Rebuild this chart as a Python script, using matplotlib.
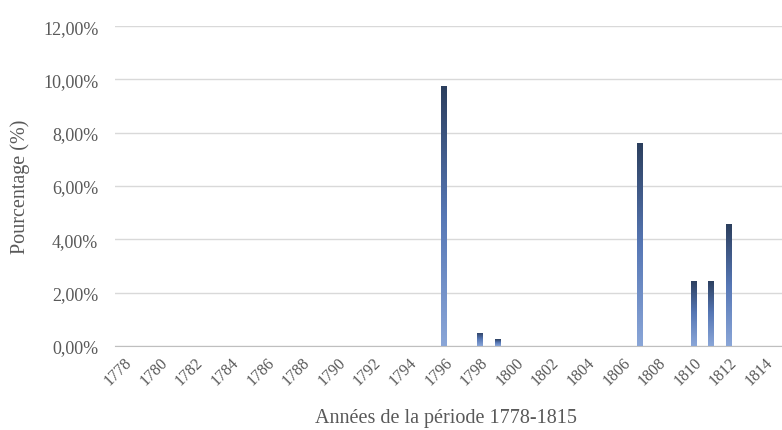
import numpy as np
import matplotlib.pyplot as plt
from matplotlib.colors import LinearSegmentedColormap
from matplotlib.transforms import ScaledTranslation

# Years 1778-1815 and share (%) for each year
years = list(range(1778, 1816))
values = {1796: 9.75, 1798: 0.50, 1799: 0.25, 1807: 7.60,
          1810: 2.45, 1811: 2.45, 1812: 4.57}
percent = [values.get(y, 0.0) for y in years]
tick_labels = [str(y) for y in years[::2]]

plt.rcParams['font.family'] = ['Liberation Serif', 'DejaVu Serif']
grey = '#595959'

fig = plt.figure(figsize=(7.82, 4.31), dpi=100)
ax = fig.add_axes([0.147, 0.195, 0.865, 0.742])

x = np.arange(len(years))
bars = ax.bar(x, percent, width=0.32, color='none', edgecolor='none', zorder=3)

# vertical gradient: dark navy at the top, lighter blue at the base
cmap = LinearSegmentedColormap.from_list('bar', ['#8aa6d8', '#5677b5', '#2c3f5e'])
grad = np.linspace(0, 1, 256).reshape(-1, 1)
for bar in bars:
    h = bar.get_height()
    if h <= 0:
        continue
    x0 = bar.get_x()
    im = ax.imshow(grad, cmap=cmap, origin='lower', aspect='auto',
                   extent=[x0, x0 + bar.get_width(), 0, h], zorder=3)
    im.set_clip_path(bar)

ax.set_xlim(-0.5, len(years) - 0.5)
ax.set_ylim(0, 12)
ax.set_yticks(np.arange(0, 13, 2))
ax.set_yticklabels([f'{v:.2f}%'.replace('.', ',') for v in np.arange(0, 13, 2)])
ax.set_xticks(x[::2])
ax.set_xticklabels(tick_labels, rotation=45, ha='right', rotation_mode='anchor')
shift = ScaledTranslation(-9 / 100, -3 / 100, fig.dpi_scale_trans)
for lbl in ax.get_xticklabels():
    lbl.set_transform(lbl.get_transform() + shift)

ax.grid(axis='y', color='#d9d9d9', linewidth=1, zorder=0)
for s in ['top', 'right', 'left']:
    ax.spines[s].set_visible(False)
ax.spines['bottom'].set_color('#bfbfbf')
ax.tick_params(axis='both', length=0, colors=grey)
ax.tick_params(axis='y', pad=12, labelsize=13)
ax.tick_params(axis='x', pad=6, labelsize=11.5)

ax.set_ylabel('Pourcentage (%)', color=grey, fontsize=14.5)
ax.yaxis.set_label_coords(-0.125, 0.5)
ax.set_xlabel('Années de la période 1778-1815', color=grey, fontsize=14.5)
ax.xaxis.set_label_coords(0.49, -0.195)

fig.savefig('out.png', dpi=100)
